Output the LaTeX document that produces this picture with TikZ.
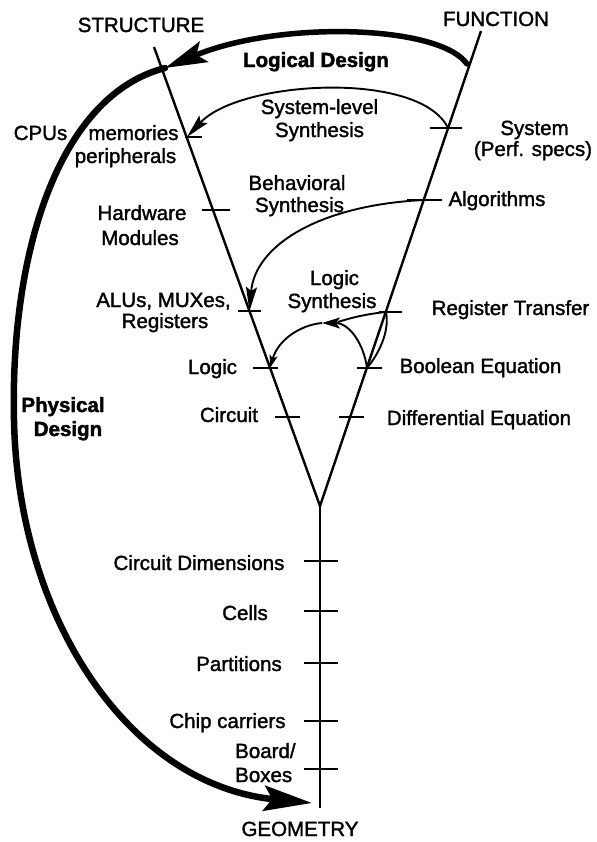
\documentclass[tikz,border=0pt]{standalone}
\usepackage{fontspec}
\setmainfont{Liberation Sans}
\newfontfamily\lblfont[FakeBold=1.6]{Liberation Sans}
\newfontfamily\blblfont[FakeBold=2]{Liberation Sans Bold}
\usetikzlibrary{arrows.meta}
\begin{document}
\begin{tikzpicture}[x=1bp,y=-1bp,
  lbl/.style={font=\lblfont\fontsize{20.5bp}{23bp}\selectfont, inner sep=0pt, anchor=base},
  blbl/.style={lbl, font=\blblfont\fontsize{20.5bp}{23bp}\selectfont},
  axis/.style={line width=2.4bp},
  tickmark/.style={line width=2bp},
  thinarrow/.style={line width=1.9bp},
  thickarrow/.style={line width=5bp, line cap=round},
]
\useasboundingbox (0,0) rectangle (597,842);
% axes
\coordinate (S0) at (154,47);
\coordinate (F0) at (481,31);
\coordinate (V)  at (320,506);
\coordinate (G0) at (320,808);
\draw[axis] (S0) -- (V) -- (F0);
\draw[axis] (V) -- (G0);
% axis points
\coordinate (S1) at (187,137);
\coordinate (S2) at (213,210);
\coordinate (S3) at (249.5,311);
\coordinate (S4) at (270,368);
\coordinate (S5) at (288,417);
\coordinate (F1) at (448,128);
\coordinate (F2) at (424,200);
\coordinate (F3) at (386,312);
\coordinate (F4) at (367,368);
\coordinate (F5) at (350,417);
\coordinate (G1) at (320,561);
\coordinate (G2) at (320,611);
\coordinate (G3) at (320,663);
\coordinate (G4) at (320,721);
\coordinate (G5) at (320,769);
% ticks
\draw[tickmark] (S1) ++(-2,0) -- ++(17,0);
\draw[tickmark] (S2) ++(-11,0) -- ++(28,0);
\draw[tickmark] (S3) ++(-12,0) -- ++(23,0);
\draw[tickmark] (S4) ++(-17,0) -- ++(25,0);
\draw[tickmark] (S5) ++(-13,0) -- ++(25,0);
\draw[tickmark] (F1) ++(-18,0) -- ++(32,0);
\draw[tickmark] (F2) ++(-17,0) -- ++(35,0);
\draw[tickmark] (F3) ++(-7,0) -- ++(23,0);
\draw[tickmark] (F4) ++(-10,0) -- ++(25,0);
\draw[tickmark] (F5) ++(-11,0) -- ++(25,0);
\foreach \g in {G1,G2,G3,G4,G5}
  \draw[tickmark] (\g) ++(-16,0) -- ++(34,0);
% Logical design
\coordinate (LDs) at (467,64);
\coordinate (LDe) at (165,68);
\draw[thickarrow, line width=5.5bp, -{Stealth[length=42bp,width=22bp,inset=8bp]}]
  (LDs) .. controls (440,25) and (280,20) .. (LDe);
% Physical design
\coordinate (PDm) at (14,420);
\coordinate (PDe) at (312,803);
\draw[thickarrow, line width=6.5bp, -{Stealth[length=48bp,width=25bp,inset=8bp]}]
  (LDe) .. controls (60,95) and (10,250) .. (PDm)
        .. controls (18,620) and (130,785) .. (PDe);
% System-level synthesis
\draw[thinarrow, -{Stealth[length=24bp,width=11bp,inset=4bp]}]
  (F1) .. controls (420,70) and (240,80) .. (S1);
% Behavioral synthesis
\draw[thinarrow, -{Stealth[length=24bp,width=11bp,inset=4bp]}]
  (F2) .. controls (320,205) and (255,245) .. (S3);
% Logic synthesis
\coordinate (LSm) at (322,323);
\coordinate (LSj) at (338,322);
\draw[thinarrow] (F3) .. controls (390,332) and (378,355) .. (F4);
\draw[thinarrow] (F3) .. controls (366,314) and (350,318) .. (LSj);
\draw[thinarrow, -{Stealth[length=18bp,width=11bp,inset=4bp]}]
  (F4) .. controls (364,345) and (350,323) .. (LSm);
\draw[thinarrow, -{Stealth[length=13bp,width=8bp,inset=3bp]}]
  (LSm) .. controls (300,325) and (278,340) .. (S4);
% labels
\node[lbl] (structure) at (141,32) {STRUCTURE};
\node[lbl] (function) at (496,26) {FUNCTION};
\node[lbl] (geometry) at (300,836) {GEOMETRY};
\node[blbl] (logical) at (316,67) {Logical Design};
\node[blbl] (physical1) at (63,412) {Physical};
\node[blbl] (physical2) at (68,436) {Design};
\node[lbl] (sls1) at (319.5,114) {System-level};
\node[lbl] (sls2) at (319.5,137) {Synthesis};
\node[lbl] (bs1) at (297,190) {Behavioral};
\node[lbl] (bs2) at (299.5,212) {Synthesis};
\node[lbl] (ls1) at (334.5,285) {Logic};
\node[lbl] (ls2) at (332,308) {Synthesis};
\node[lbl] (cpus) at (40.5,140) {CPUs};
\node[lbl] (memories) at (133.5,140) {memories};
\node[lbl] (periph) at (125.5,163) {peripherals};
\node[lbl] (hw1) at (142,220) {Hardware};
\node[lbl] (hw2) at (140,245) {Modules};
\node[lbl] (alu1) at (163.5,307) {ALUs, MUXes,};
\node[lbl] (alu2) at (165,328) {Registers};
\node[lbl] (logic) at (212.5,374) {Logic};
\node[lbl] (circuit) at (229,422) {Circuit};
\node[lbl] (sys1) at (534.5,135) {System};
\node[lbl] (sys2) at (533,156) {(Perf. specs)};
\node[lbl] (algo) at (497,206) {Algorithms};
\node[lbl] (rt) at (510.5,315) {Register Transfer};
\node[lbl] (bool) at (480.5,373) {Boolean Equation};
\node[lbl] (diff) at (479,425) {Differential Equation};
\node[lbl] (cdim) at (199,570) {Circuit Dimensions};
\node[lbl] (cells) at (245,620) {Cells};
\node[lbl] (part) at (239,671) {Partitions};
\node[lbl] (chip) at (227.5,728) {Chip carriers};
\node[lbl, anchor=base west] (board1) at (235,758) {Board/};
\node[lbl, anchor=base west] (board2) at (235,782) {Boxes};
\end{tikzpicture}
\end{document}
